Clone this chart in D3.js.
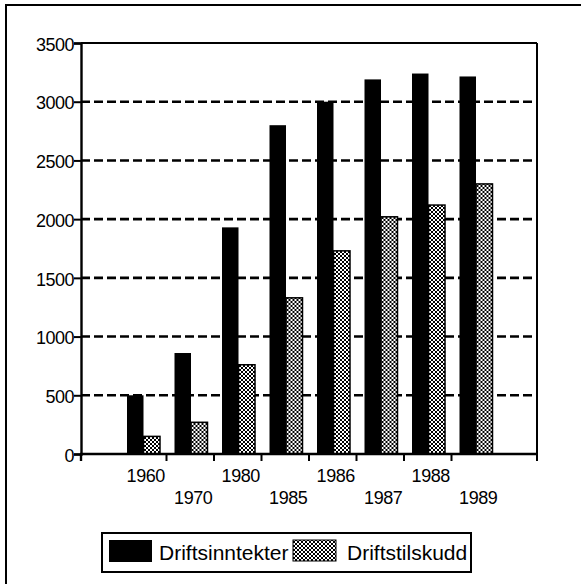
<!DOCTYPE html>
<html>
<head>
<meta charset="utf-8">
<script src="https://cdn.jsdelivr.net/npm/d3@7"></script>
<style>
  body { margin: 0; background: #fff; }
  text { font-family: "Liberation Sans", Arial, sans-serif; }
</style>
</head>
<body>
<svg id="chart" width="581" height="584"></svg>
<script>
// data
var years = ["1960", "1970", "1980", "1985", "1986", "1987", "1988", "1989"];
var driftsinntekter = [500, 860, 1930, 2800, 3000, 3190, 3240, 3215];
var driftstilskudd = [150, 270, 760, 1330, 1730, 2020, 2120, 2300];
var seriesNames = ["Driftsinntekter", "Driftstilskudd"];
var yTicks = [0, 500, 1000, 1500, 2000, 2500, 3000, 3500];

var svg = d3.select("#chart");
var pLeft = 81, pTop = 43, pRight = 537, pBottom = 454;

// hatch pattern for the second series
var defs = svg.append("defs");
var pat = defs.append("pattern")
    .attr("id", "hatch")
    .attr("width", 4).attr("height", 4)
    .attr("patternUnits", "userSpaceOnUse");
pat.append("rect").attr("width", 4).attr("height", 4).attr("fill", "#fff");
pat.append("path").attr("d", "M0,0L4,4M4,0L0,4")
    .attr("stroke", "#000").attr("stroke-width", 1);

// outer frame (top and left edges only visible)
svg.append("line").attr("x1", 5).attr("x2", 581).attr("y1", 5).attr("y2", 5)
    .attr("stroke", "#000").attr("stroke-width", 2);
svg.append("line").attr("x1", 6).attr("x2", 6).attr("y1", 5).attr("y2", 584)
    .attr("stroke", "#000").attr("stroke-width", 2);

var x0 = d3.scaleBand().domain(years).range([pLeft, pRight])
    .paddingInner(0).paddingOuter(0.8);
var x1 = d3.scaleBand().domain(seriesNames).range([8, 41]);
var y = d3.scaleLinear().domain([0, 3500]).range([pBottom, pTop]);

// dashed gridlines
svg.append("g").selectAll("line")
  .data(yTicks.filter(function(d) { return d > 0 && d < 3500; }))
  .join("line")
    .attr("x1", pLeft).attr("x2", pRight)
    .attr("y1", function(d) { return y(d); })
    .attr("y2", function(d) { return y(d); })
    .attr("stroke", "#000").attr("stroke-width", 2.6)
    .attr("stroke-dasharray", "9,4");

// bars
var rows = years.map(function(yr, i) {
  return {year: yr, vals: [
    {name: seriesNames[0], v: driftsinntekter[i]},
    {name: seriesNames[1], v: driftstilskudd[i]}
  ]};
});
var groups = svg.append("g").selectAll("g").data(rows).join("g")
    .attr("transform", function(d) { return "translate(" + x0(d.year) + ",0)"; });
groups.selectAll("rect").data(function(d) { return d.vals; }).join("rect")
    .attr("x", function(d) { return x1(d.name); })
    .attr("width", x1.bandwidth())
    .attr("y", function(d) { return y(d.v); })
    .attr("height", function(d) { return y(0) - y(d.v); })
    .attr("fill", function(d, i) { return i ? "url(#hatch)" : "#000"; })
    .attr("stroke", "#000").attr("stroke-width", function(d, i) { return i ? 1.5 : 0; });

// plot frame: top and right
svg.append("line").attr("x1", pLeft).attr("x2", pRight).attr("y1", pTop).attr("y2", pTop)
    .attr("stroke", "#000").attr("stroke-width", 2);
svg.append("line").attr("x1", pRight).attr("x2", pRight).attr("y1", pTop).attr("y2", pBottom + 7)
    .attr("stroke", "#000").attr("stroke-width", 2);

// y axis
var yAxis = svg.append("g").attr("transform", "translate(" + pLeft + ",0)")
    .call(d3.axisLeft(y).tickValues(yTicks).tickSize(7).tickPadding(0).tickFormat(d3.format("d")));
yAxis.select(".domain").attr("stroke-width", 2.4);
yAxis.selectAll(".tick line").attr("stroke-width", 2);
yAxis.selectAll("text").attr("font-size", 18).attr("fill", "#000")
    .attr("font-family", "Liberation Sans, Arial, sans-serif")
    .attr("letter-spacing", -0.5).attr("dy", "0.4em");

// x axis: ticks between groups
var bounds = years.slice(1).map(function(d) { return x0(d); });
var xAxis = svg.append("g");
xAxis.append("line").attr("x1", pLeft - 1).attr("x2", pRight + 1)
    .attr("y1", pBottom).attr("y2", pBottom)
    .attr("stroke", "#000").attr("stroke-width", 2.4);
xAxis.selectAll(".xt").data(bounds).join("line").attr("class", "xt")
    .attr("x1", function(d) { return d; }).attr("x2", function(d) { return d; })
    .attr("y1", pBottom).attr("y2", pBottom + 7)
    .attr("stroke", "#000").attr("stroke-width", 2);
xAxis.append("line").attr("x1", pLeft).attr("x2", pLeft).attr("y1", pBottom).attr("y2", pBottom + 7)
    .attr("stroke", "#000").attr("stroke-width", 2.4);
xAxis.selectAll("text").data(years).join("text")
    .attr("x", function(d) { return x0(d) + x0.bandwidth() / 2 + 3; })
    .attr("y", function(d, i) { return i % 2 ? 504 : 482; })
    .attr("text-anchor", "middle")
    .attr("font-size", 18).attr("letter-spacing", -0.4)
    .text(function(d) { return d; });

// legend
var lg = svg.append("g");
lg.append("rect").attr("x", 102).attr("y", 533).attr("width", 369).attr("height", 39)
    .attr("fill", "#fff").attr("stroke", "#000").attr("stroke-width", 2);
lg.append("rect").attr("x", 109).attr("y", 540).attr("width", 43).attr("height", 22).attr("fill", "#000");
lg.append("text").attr("x", 159).attr("y", 560).attr("font-size", 21)
    .text(seriesNames[0]);
lg.append("rect").attr("x", 293).attr("y", 540).attr("width", 43).attr("height", 21)
    .attr("fill", "url(#hatch)").attr("stroke", "#000").attr("stroke-width", 1);
lg.append("text").attr("x", 347).attr("y", 560).attr("font-size", 21)
    .text(seriesNames[1]);
</script>
</body>
</html>
